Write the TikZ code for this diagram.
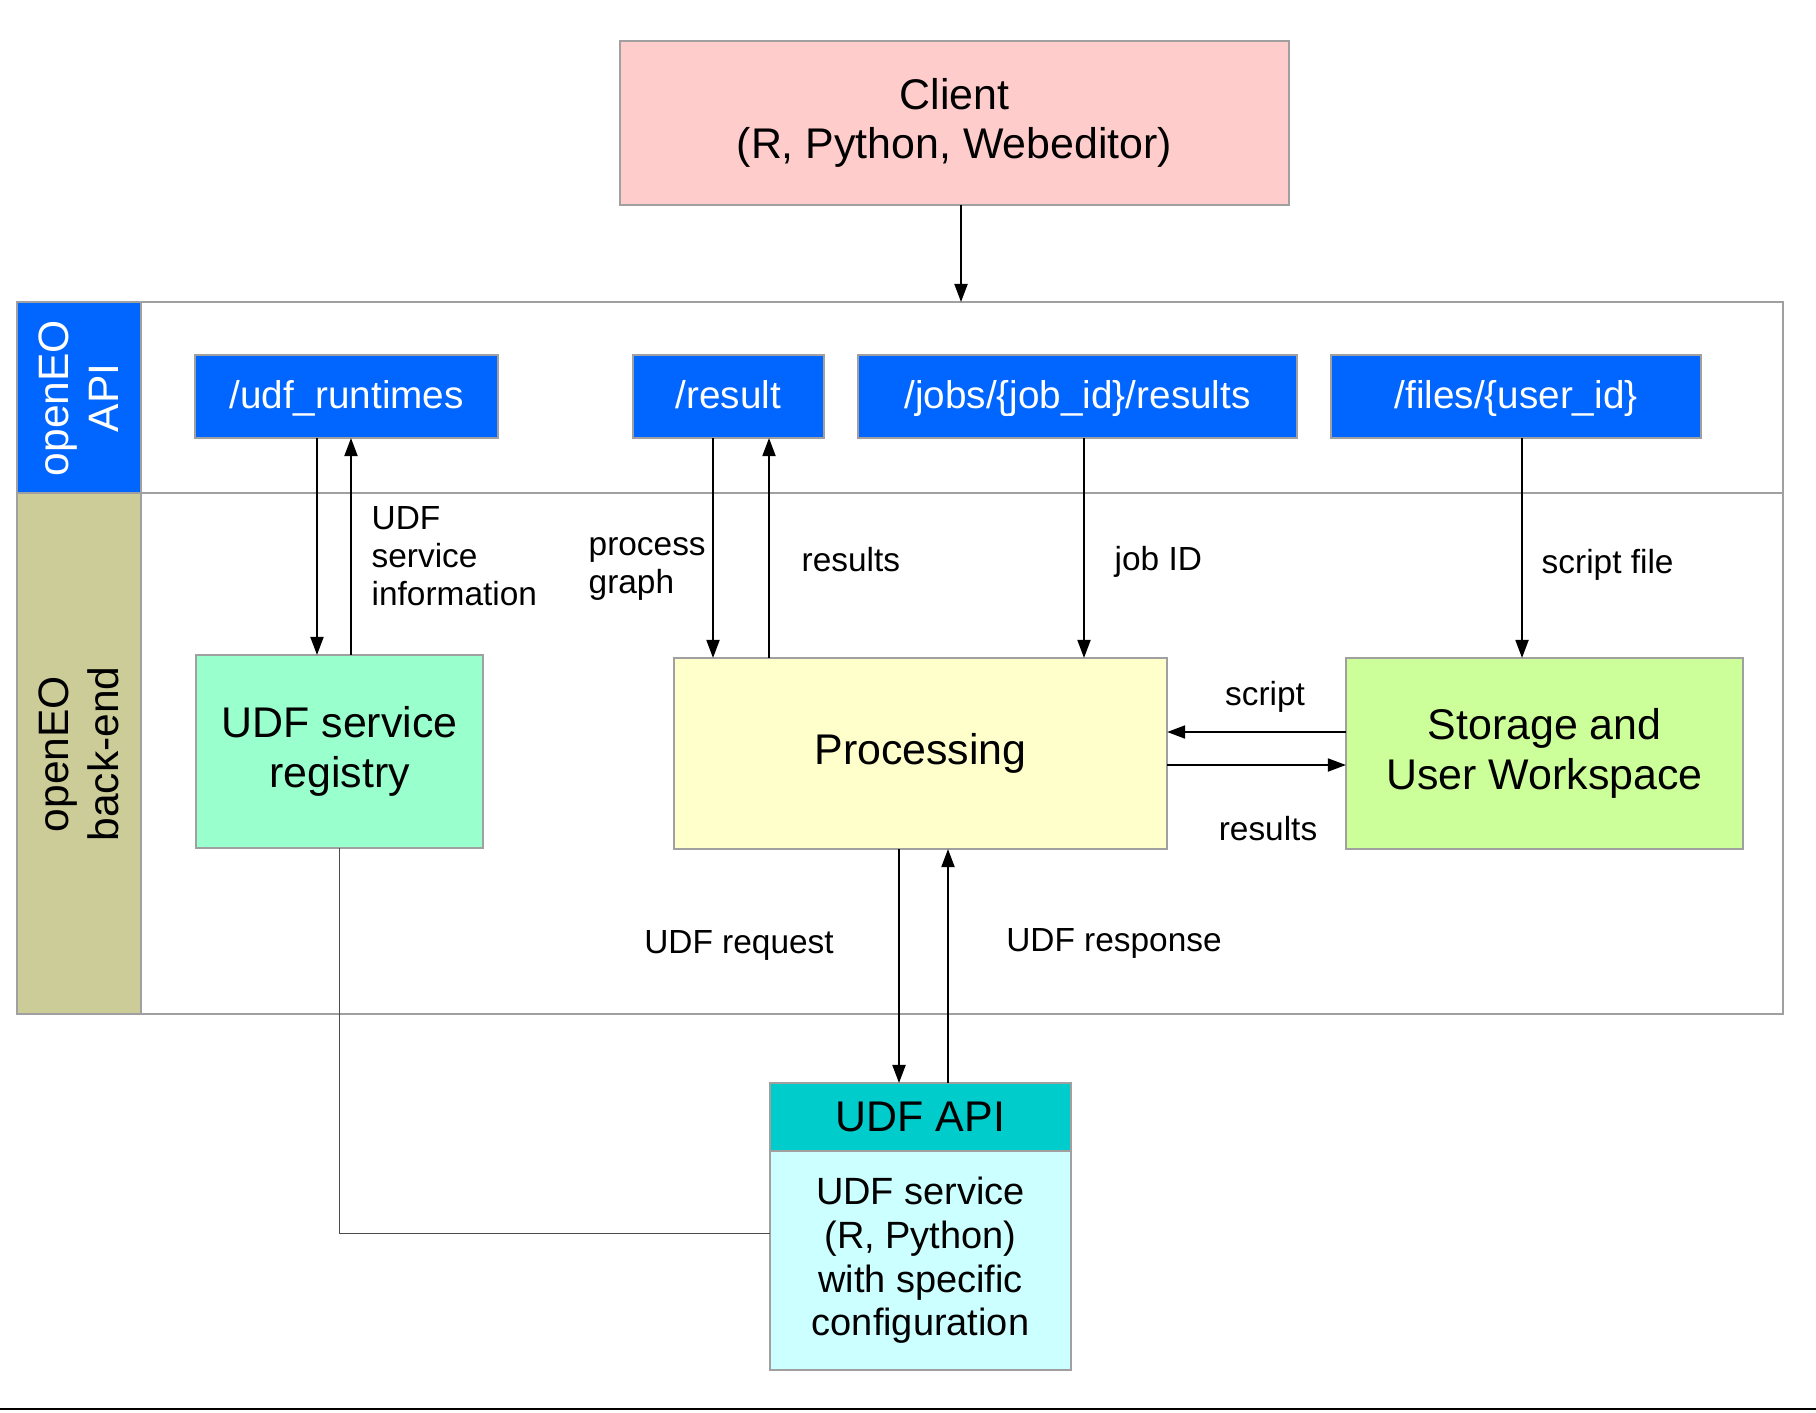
\documentclass[tikz,border=0pt]{standalone}
\usepackage{fontspec}
\setmainfont{Liberation Sans}
\usetikzlibrary{positioning,calc,arrows.meta}

\definecolor{clientred}{HTML}{FFCCCC}
\definecolor{apiblue}{HTML}{0066FF}
\definecolor{regmint}{HTML}{99FFCC}
\definecolor{procyellow}{HTML}{FFFFCC}
\definecolor{storegreen}{HTML}{CCFF99}
\definecolor{udfteal}{HTML}{00CCCC}
\definecolor{udfcyan}{HTML}{CCFFFF}
\definecolor{backolive}{HTML}{CCCC99}
\definecolor{edgegray}{HTML}{A0A0A0}

\tikzset{
  box/.style={draw=edgegray, line width=0.6pt, inner sep=0pt, outer sep=0pt, align=center, font=\fontsize{12.2}{14}\selectfont},
  endpoint/.style={box, fill=apiblue, text=white, minimum height=0.83cm, text height=0.85em, text depth=0.15em, font=\fontsize{11}{13}\selectfont},
  lbl/.style={align=left, inner sep=0pt, font=\fontsize{9.5}{10.9}\selectfont},
  arr/.style={line width=0.55pt, -{Triangle[length=0.18cm,width=0.13cm]}},
  link/.style={line width=0.55pt},
  bandtext/.style={rotate=90, align=center, inner sep=0pt, font=\fontsize{12.1}{14.2}\selectfont},
}

\begin{document}
\begin{tikzpicture}[x=0.01cm, y=-0.01cm]
        \useasboundingbox (0,0) rectangle (1816,1412);

        % Client
        \node[box, fill=clientred, minimum width=6.69cm, minimum height=1.64cm] (client) at (954.5,123) {Client\\(R, Python, Webeditor)};

        % Frame with the two bands
        \draw[draw=edgegray, line width=0.6pt] (17,302) rectangle (1783,1014);
        \draw[draw=edgegray, line width=0.6pt] (17,493) -- (1783,493);
        \draw[draw=edgegray, line width=0.6pt, fill=apiblue] (17,302) rectangle (141,493);
        \draw[draw=edgegray, line width=0.6pt, fill=backolive] (17,493) rectangle (141,1014);
        \node[bandtext, text=white] (apilabel) at (79,398) {openEO\\API};
        \node[bandtext] (backlabel) at (79,754) {openEO\\back-end};
        \coordinate (apitop) at (961,302);

        % API endpoints
        \node[endpoint, minimum width=3.03cm] (udfrt) at (346.5,396.5) {/udf\_runtimes};
        \node[endpoint, minimum width=1.91cm] (result) at (728.5,396.5) {/result};
        \node[endpoint, minimum width=4.39cm] (jobs) at (1077.5,396.5) {/jobs/\{job\_id\}/results};
        \node[endpoint, minimum width=3.70cm] (files) at (1516,396.5) {/files/\{user\_id\}};

        % Back-end components
        \node[box, fill=regmint, minimum width=2.87cm, minimum height=1.93cm] (registry) at (339.5,751.5) {UDF service\\registry};
        \node[box, fill=procyellow, minimum width=4.93cm, minimum height=1.91cm] (processing) at (920.5,753.5) {Processing};
        \node[box, fill=storegreen, minimum width=3.97cm, minimum height=1.91cm] (storage) at (1544.5,753.5) {Storage and\\User Workspace};

        % UDF API
        \node[box, fill=udfteal, minimum width=3.01cm, minimum height=0.68cm] (udfhead) at (920.5,1117) {UDF API};
        \node[box, fill=udfcyan, minimum width=3.01cm, minimum height=2.19cm, font=\fontsize{10.8}{12.4}\selectfont] (udfbody) at (920.5,1260.5) {UDF service\\(R, Python)\\with specific\\configuration};

        % Connectors
        \draw[arr] (client.south -| apitop) -- (apitop);
        \draw[arr] (udfrt.south -| 317,0) -- (registry.north -| 317,0);
        \draw[arr] (registry.north -| 351,0) -- (udfrt.south -| 351,0);
        \draw[arr] (result.south -| 713,0) -- (processing.north -| 713,0);
        \draw[arr] (processing.north -| 769,0) -- (result.south -| 769,0);
        \draw[arr] (jobs.south -| 1084,0) -- (processing.north -| 1084,0);
        \draw[arr] (files.south -| 1522,0) -- (storage.north -| 1522,0);
        \draw[arr] (storage.west |- 0,732) -- (processing.east |- 0,732);
        \draw[arr] (processing.east |- 0,765) -- (storage.west |- 0,765);
        \draw[arr] (processing.south -| 899,0) -- (udfhead.north -| 899,0);
        \draw[arr] (udfhead.north -| 948,0) -- (processing.south -| 948,0);
        \draw[link, draw=black!70] (registry.south) |- ([yshift=0.27cm]udfbody.west);

        % Connector labels
        \node[lbl, anchor=west] (lblinfo) at (371,556) {UDF\\service\\information};
        \node[lbl, anchor=west] (lblgraph) at (588,569) {process\\graph};
        \node[lbl, anchor=west] (lblres) at (801,560) {results};
        \node[lbl, anchor=west] (lbljob) at (1114,562) {job ID};
        \node[lbl, anchor=west] (lblfile) at (1541,565) {script file};
        \node[lbl] (lblscript) at (1265,697) {script};
        \node[lbl] (lblresults) at (1268,829) {results};
        \node[lbl] (lblreq) at (739,945) {UDF request};
        \node[lbl] (lblresp) at (1114,943) {UDF response};

        % Bottom rule
        \draw[line width=0.8pt] (0,1409) -- (1816,1409);
    \end{tikzpicture}
\end{document}
